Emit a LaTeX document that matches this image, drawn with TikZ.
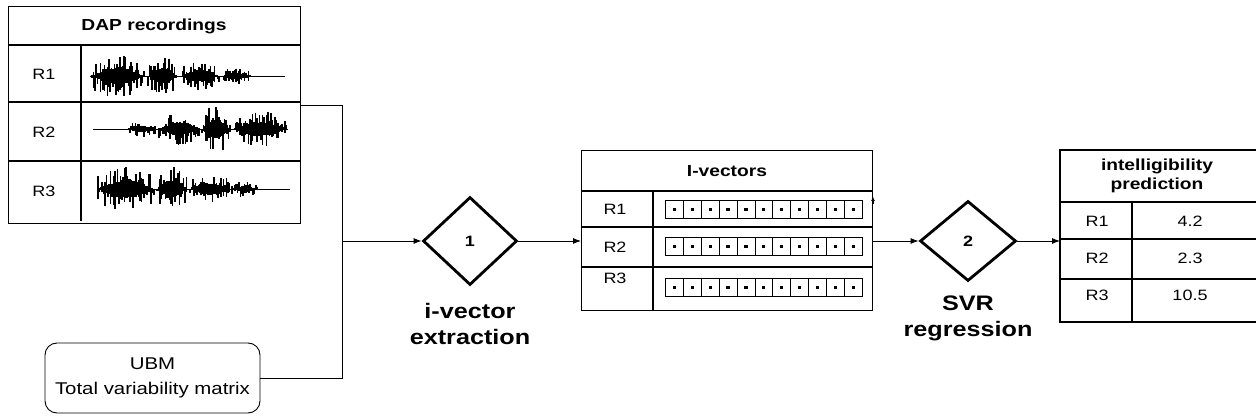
\documentclass[tikz,border=0pt]{standalone}
\usepackage{fontspec}
\setmainfont{Liberation Sans}[FakeStretch=1.2]
\usetikzlibrary{shapes.geometric,arrows.meta}
\tikzstyle{frame} = [draw,line width=1.2pt]
\tikzstyle{cell} = [draw,line width=0.8pt,minimum width=17.9pt,minimum height=18pt,inner sep=0pt,anchor=north west]
\tikzstyle{proc} = [draw,shape=diamond,line width=2.8pt,inner sep=0pt,font=\bfseries\fontsize{15}{18}\selectfont]
\tikzstyle{link} = [line width=0.9pt]
\tikzstyle{arr} = [link,-{Latex[length=8pt,width=6pt]}]
\tikzstyle{hlabel} = [font=\bfseries\fontsize{16}{19}\selectfont,align=center]
\tikzstyle{rlabel} = [font=\fontsize{15}{18}\selectfont]
\tikzstyle{plabel} = [font=\bfseries\fontsize{21}{26}\selectfont,align=center]
\tikzstyle{waveline} = [line width=1.5pt]

% one burst of a speech signal: from x #1 to x #2, on axis #3, amplitude #4
\newcommand{\waveburst}[4]{%
  \pgfmathtruncatemacro\wn{(#2-#1)/1.4}
  \foreach \i in {0,...,\wn}{
    \pgfmathsetmacro\wx{#1+1.4*\i}
    \pgfmathsetmacro\wenv{sin(180*\i/\wn)}
    \pgfmathsetmacro\wup{#4*(0.35*\wenv+0.65*rnd^2.5)}
    \pgfmathsetmacro\wdn{#4*(0.35*\wenv+0.65*rnd^2.5)}
    \draw[waveline] (\wx,#3-\wup) -- (\wx,#3+\wdn);
  }}

\begin{document}
\begin{tikzpicture}[x=1pt,y=-1pt]
\useasboundingbox (0,0) rectangle (1256,419);

% recordings table
\node[frame,minimum width=292pt,minimum height=217pt,inner sep=0pt,anchor=north west] (dap) at (8,6) {};
\draw[frame] (8,45) -- (300,45) (8,102) -- (300,102) (8,161) -- (300,161);
\draw[frame] (81,45) -- (81,221);
\node[hlabel] (daph) at (154,26) {DAP recordings};
\node[rlabel] (dr1) at (44,74) {R1};
\node[rlabel] (dr2) at (44,132) {R2};
\node[rlabel] (dr3) at (44,191) {R3};

% waveforms
\pgfmathsetseed{12}
\draw[link] (90,76) -- (285,76);
\waveburst{92}{145}{76}{22}
\waveburst{148}{178}{76}{20}
\waveburst{181}{220}{76}{15}
\waveburst{222}{250}{76}{8}
\draw[link] (93,129) -- (288,129);
\waveburst{127}{157}{129}{8}
\waveburst{159}{200}{129}{16}
\waveburst{202}{230}{129}{25}
\waveburst{233}{287}{129}{18}
\draw[link] (97,189) -- (290,189);
\waveburst{98}{155}{189}{22}
\waveburst{157}{187}{189}{22}
\waveburst{190}{230}{189}{15}
\waveburst{232}{258}{189}{8}

% UBM / T matrix
\node[draw,line width=0.9pt,rounded corners=12pt,minimum width=215pt,minimum height=70pt,
      align=center,font=\fontsize{17}{25}\selectfont] (ubm) at (152.5,378) {UBM\\Total variability matrix};

% processing steps
\node[proc,minimum width=94pt,minimum height=88pt] (d1) at (470,241) {1};
\node[plabel] (d1l) at (470,324) {i-vector\\extraction};
\node[proc,minimum width=96pt,minimum height=80pt] (d2) at (968,241) {2};
\node[plabel] (d2l) at (968,318) {SVR\\regression};

% i-vector table
\node[frame,minimum width=291pt,minimum height=160pt,inner sep=0pt,anchor=north west] (ivec) at (581,150) {};
\draw[frame] (581,191) -- (872,191) (581,227) -- (872,227) (581,267) -- (872,267);
\draw[frame] (653,191) -- (653,310);
\node[hlabel] (ivech) at (727,171) {I-vectors};
\node[rlabel] (ir1) at (615,209) {R1};
\node[rlabel] (ir2) at (615,247) {R2};
\node[rlabel] (ir3) at (615,278) {R3};
\foreach \top [count=\r] in {200,237,278}
  \foreach \k in {0,...,10} {
    \node[cell] (c\r-\k) at (665+17.9*\k,\top) {};
    \fill (c\r-\k.center) ++(-1.6,-1.6) rectangle ++(3.2,3.2);
  }
\draw[-{Latex[length=4pt,width=4pt]},line width=0.6pt] (873,204) -- (873,197);

% prediction table
\coordinate (pred) at (1060,241);
\draw[frame] (1256,150) -- (1060,150) -- (1060,322) -- (1256,322);
\draw[frame] (1060,202) -- (1256,202) (1060,239) -- (1256,239) (1060,279) -- (1256,279);
\draw[frame] (1132,202) -- (1132,322);
\node[hlabel] (predh) at (1157,176) {intelligibility\\prediction};
\node[rlabel] (pr1) at (1097,221) {R1};
\node[rlabel] (pr2) at (1097,258) {R2};
\node[rlabel] (pr3) at (1097,295) {R3};
\node[rlabel] (pv1) at (1190,221) {4.2};
\node[rlabel] (pv2) at (1190,258) {2.3};
\node[rlabel] (pv3) at (1190,295) {10.5};

% connectors
\coordinate (j1) at (342,105);
\coordinate (j2) at (342,241);
\draw[link] (dap.east |- j1) -- (j1) -- (j2 |- ubm.east) -- (ubm.east);
\draw[arr] (j2) -- (d1.west);
\draw[arr] (d1.east) -- (d1.east -| ivec.west);
\draw[arr] (ivec.east |- d2.west) -- (d2.west);
\draw[arr] (d2.east) -- (pred);
\end{tikzpicture}
\end{document}
